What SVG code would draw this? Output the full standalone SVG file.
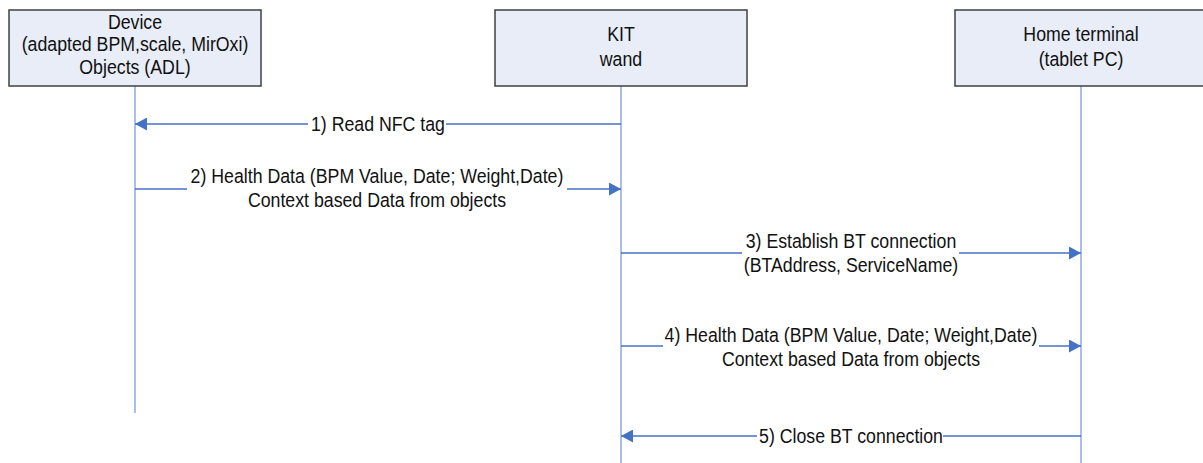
<svg xmlns="http://www.w3.org/2000/svg" width="1203" height="463" viewBox="0 0 1203 463">
  <style>
    .box { fill: #e8edf7; stroke: #404040; stroke-width: 1.5; }
    .life { stroke: #8eaadb; stroke-width: 1.5; fill: none; }
    .msg { stroke: #4472c4; stroke-width: 1.3; fill: none; }
    .txt { font-family: "Liberation Sans", Arial, sans-serif; font-size: 19.5px; fill: #111; text-anchor: middle;
           transform-box: fill-box; transform-origin: center; transform: scaleX(0.91); }
  </style>
  <defs>
    <marker id="head" markerUnits="userSpaceOnUse" markerWidth="12" markerHeight="13" refX="12" refY="6.5" orient="auto">
      <path d="M0,0 L12,6.5 L0,13 z" fill="#4472c4"/>
    </marker>
  </defs>

  <rect width="1203" height="463" fill="#ffffff"/>

  <!-- lifelines -->
  <g id="lifelines">
    <line class="life" x1="135" y1="86" x2="135" y2="413"/>
    <line class="life" x1="621" y1="86" x2="621" y2="463"/>
    <line class="life" x1="1081" y1="86" x2="1081" y2="463"/>
  </g>

  <!-- participants -->
  <g id="device">
    <rect class="box" x="9" y="10" width="252" height="76"/>
    <text class="txt" x="135" y="29">Device</text>
    <text class="txt" x="135" y="51.5">(adapted BPM,scale, MirOxi)</text>
    <text class="txt" x="135" y="74">Objects (ADL)</text>
  </g>
  <g id="kit-wand">
    <rect class="box" x="495" y="10" width="252" height="76"/>
    <text class="txt" x="621" y="41">KIT</text>
    <text class="txt" x="621" y="66">wand</text>
  </g>
  <g id="home-terminal">
    <rect class="box" x="955" y="10" width="252" height="76"/>
    <text class="txt" x="1081" y="41">Home terminal</text>
    <text class="txt" x="1081" y="66">(tablet PC)</text>
  </g>

  <!-- messages -->
  <g id="connectors">
    <line class="msg" x1="621" y1="124" x2="446" y2="124"/>
    <line class="msg" x1="308" y1="124" x2="135" y2="124" marker-end="url(#head)"/>

    <line class="msg" x1="135" y1="189" x2="187" y2="189"/>
    <line class="msg" x1="567" y1="189" x2="621" y2="189" marker-end="url(#head)"/>

    <line class="msg" x1="621" y1="253" x2="742" y2="253"/>
    <line class="msg" x1="959" y1="253" x2="1081" y2="253" marker-end="url(#head)"/>

    <line class="msg" x1="621" y1="346" x2="663" y2="346"/>
    <line class="msg" x1="1039" y1="346" x2="1081" y2="346" marker-end="url(#head)"/>

    <line class="msg" x1="1081" y1="436" x2="943" y2="436"/>
    <line class="msg" x1="757" y1="436" x2="621" y2="436" marker-end="url(#head)"/>
  </g>

  <!-- message labels -->
  <g id="labels">
    <text class="txt" x="378" y="131">1) Read NFC tag</text>
    <text class="txt" x="377" y="183">2) Health Data (BPM Value, Date; Weight,Date)</text>
    <text class="txt" x="377" y="207">Context based Data from objects</text>
    <text class="txt" x="851" y="248">3) Establish BT connection</text>
    <text class="txt" x="851" y="272">(BTAddress, ServiceName)</text>
    <text class="txt" x="851" y="342">4) Health Data (BPM Value, Date; Weight,Date)</text>
    <text class="txt" x="851" y="366">Context based Data from objects</text>
    <text class="txt" x="851" y="443">5) Close BT connection</text>
  </g>
</svg>
